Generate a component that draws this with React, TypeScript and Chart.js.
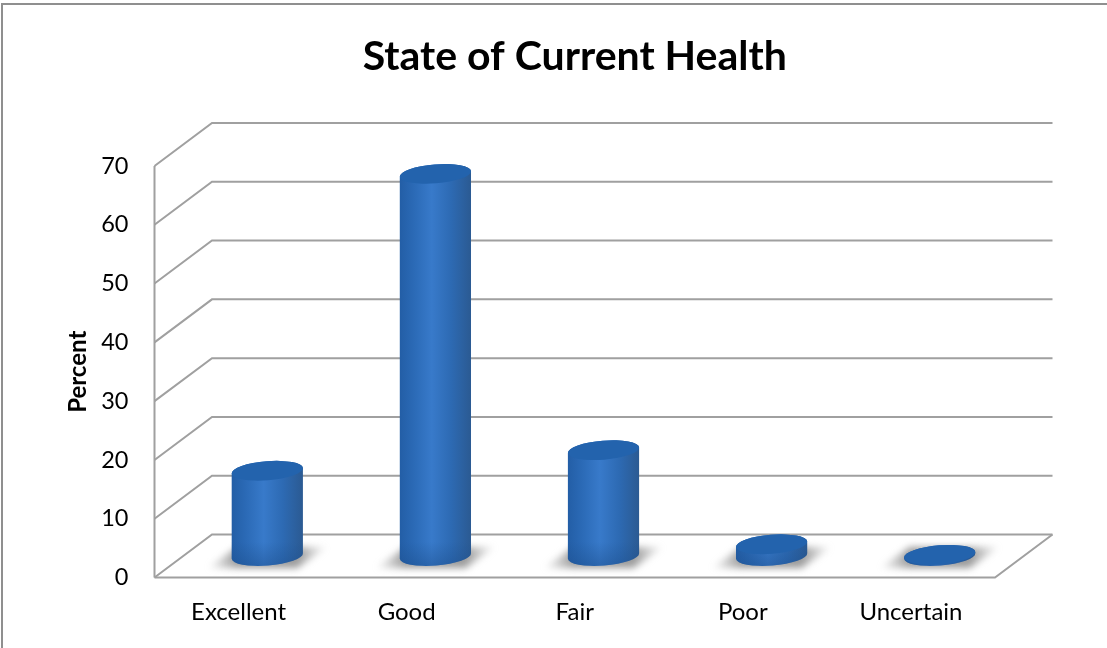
import React, { useEffect, useRef } from "react";
import { Chart, registerables } from "chart.js";

Chart.register(...registerables);

const categories = ["Excellent", "Good", "Fair", "Poor", "Uncertain"];
const percentValues = [14.5, 65, 18, 2, 0.2];
const chartTitle = "State of Current Health";
const yAxisTitle = "Percent";
const yMax = 70;
const yStep = 10;

const DEPTH_X = 57.5;
const DEPTH_Y = 43;
const GRID = "#a0a0a0";
const FONT = "Lato, Carlito, Calibri, sans-serif";

const scene3d = {
  id: "scene3d",
  beforeDatasetsDraw(chart: any) {
    const { ctx, chartArea, scales } = chart;
    const { left, right, bottom } = chartArea;
    const y = scales.y;
    ctx.save();
    // frame (top and left edges only)
    ctx.strokeStyle = "#8f8f8f";
    ctx.lineWidth = 2;
    ctx.beginPath();
    ctx.moveTo(2, 648);
    ctx.lineTo(2, 4);
    ctx.lineTo(1107, 4);
    ctx.stroke();

    ctx.strokeStyle = GRID;
    ctx.lineWidth = 2;
    ctx.lineJoin = "miter";
    y.ticks.forEach((t: any) => {
      const py = y.getPixelForValue(t.value);
      ctx.beginPath();
      ctx.moveTo(left, py);
      ctx.lineTo(left + DEPTH_X, py - DEPTH_Y);
      ctx.lineTo(right + DEPTH_X, py - DEPTH_Y);
      ctx.stroke();
    });
    // front edge of the side wall
    ctx.beginPath();
    ctx.moveTo(left, y.getPixelForValue(yMax));
    ctx.lineTo(left, bottom);
    ctx.stroke();
    // floor
    ctx.beginPath();
    ctx.moveTo(left, bottom);
    ctx.lineTo(right, bottom);
    ctx.lineTo(right + DEPTH_X, bottom - DEPTH_Y);
    ctx.stroke();
    ctx.restore();
  },
  afterDatasetsDraw(chart: any) {
    const { ctx } = chart;
    const meta = chart.getDatasetMeta(0);
    const rot = -0.08;
    meta.data.forEach((bar: any) => {
      const a = bar.width / 2;
      const b = 9.5;
      const cx = bar.x + DEPTH_X / 2;
      const baseY = bar.base - DEPTH_Y / 2;
      const topY = bar.y - DEPTH_Y / 2;

      // floor shadow
      ctx.save();
      ctx.filter = "blur(3.5px)";
      const sg = ctx.createLinearGradient(cx - 60, 0, cx + 60, 0);
      sg.addColorStop(0, "rgba(150,150,150,0)");
      sg.addColorStop(0.25, "rgba(145,145,145,0.9)");
      sg.addColorStop(0.75, "rgba(145,145,145,0.9)");
      sg.addColorStop(1, "rgba(150,150,150,0)");
      ctx.fillStyle = sg;
      ctx.beginPath();
      ctx.moveTo(cx - 60, baseY + 12);
      ctx.lineTo(cx + 30, baseY + 12);
      ctx.lineTo(cx + 60, baseY - 9);
      ctx.lineTo(cx - 30, baseY - 9);
      ctx.closePath();
      ctx.fill();
      ctx.restore();

      // body
      ctx.save();
      const g = ctx.createLinearGradient(cx - a, 0, cx + a, 0);
      g.addColorStop(0, "#235ea6");
      g.addColorStop(0.2, "#2b6ab6");
      g.addColorStop(0.45, "#387aca");
      g.addColorStop(0.72, "#2d6ab3");
      g.addColorStop(1, "#2b5a92");
      ctx.fillStyle = g;
      ctx.beginPath();
      ctx.ellipse(cx, baseY, a, b, rot, 0, Math.PI);
      ctx.ellipse(cx, topY, a, b, rot, Math.PI, Math.PI * 2);
      ctx.closePath();
      ctx.fill();
      // darkening near the foot
      ctx.clip();
      const h = ctx.createLinearGradient(0, baseY - 14, 0, baseY + b);
      h.addColorStop(0, "rgba(28,78,140,0)");
      h.addColorStop(1, "rgba(28,78,140,0.45)");
      ctx.fillStyle = h;
      ctx.fillRect(cx - a - 2, baseY - 14, bar.width + 4, 14 + b + 4);
      ctx.restore();

      // top face
      ctx.fillStyle = "#2363ad";
      ctx.beginPath();
      ctx.ellipse(cx, topY, a, b, rot, 0, Math.PI * 2);
      ctx.fill();
    });
  },
};

export default function App() {
  const ref = useRef<HTMLCanvasElement | null>(null);
  useEffect(() => {
    const chart = new Chart(ref.current as HTMLCanvasElement, {
      type: "bar",
      data: {
        labels: categories,
        datasets: [
          {
            label: yAxisTitle,
            data: percentValues,
            backgroundColor: "rgba(0,0,0,0)",
            borderWidth: 0,
            categoryPercentage: 1,
            barPercentage: 0.425,
          },
        ],
      },
      options: {
        responsive: false,
        animation: false,
        layout: { padding: { left: 0, right: 112, top: 3, bottom: 0 } },
        plugins: {
          legend: { display: false },
          tooltip: { enabled: false },
          title: {
            display: true,
            text: chartTitle,
            fullSize: false,
            color: "#000",
            font: { family: FONT, size: 41, weight: "bold", lineHeight: 1.2 },
            padding: { top: 29.5, bottom: 84.3 },
          },
        },
        scales: {
          x: {
            grid: { display: false, drawTicks: false },
            border: { display: false },
            ticks: {
              color: "#000",
              font: { family: FONT, size: 24 },
              padding: 20,
              autoSkip: false,
              maxRotation: 0,
            },
            afterFit(s: any) {
              s.height = 70.5;
            },
          },
          y: {
            min: 0,
            max: yMax,
            grid: { display: false, drawTicks: false },
            border: { display: false },
            ticks: {
              stepSize: yStep,
              color: "#000",
              font: { family: FONT, size: 23.5 },
              padding: 26,
            },
            title: {
              display: true,
              text: yAxisTitle,
              color: "#000",
              font: { family: FONT, size: 24, weight: "bold", lineHeight: 1.2 },
              padding: { top: 64, bottom: 0 },
            },
            afterFit(s: any) {
              s.width = 154.5;
            },
          },
        },
      },
      plugins: [scene3d],
    } as any);
    return () => chart.destroy();
  }, []);
  return (
    <div style={{ position: "absolute", left: 0, top: 0, width: 1107, height: 648, background: "#fff" }}>
      <canvas ref={ref} width={1107} height={648} style={{ display: "block" }} />
    </div>
  );
}
